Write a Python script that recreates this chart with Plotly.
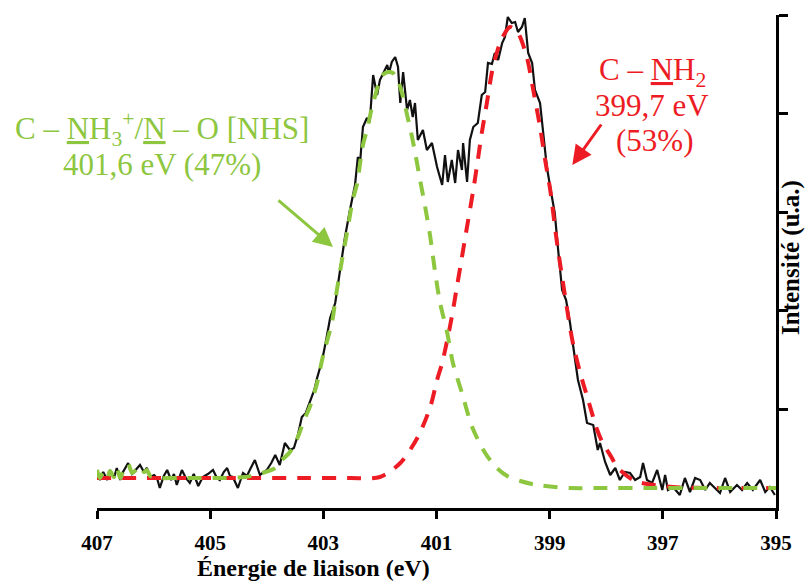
import plotly.graph_objects as go

# ---- data: binding energy (eV) and intensity (a.u.) ----
e_exp = [407.00, 406.95, 406.89, 406.82, 406.77, 406.70, 406.65, 406.59, 406.54, 406.45,
         406.38, 406.31, 406.24, 406.17, 406.12, 406.06, 405.99, 405.94, 405.89, 405.82,
         405.76, 405.69, 405.64, 405.59, 405.50, 405.43, 405.36, 405.29, 405.21, 405.13,
         405.04, 404.95, 404.88, 404.83, 404.76, 404.70, 404.65, 404.60, 404.51, 404.42,
         404.35, 404.30, 404.21, 404.12, 404.05, 404.00, 403.92, 403.85, 403.77, 403.68,
         403.59, 403.52, 403.45, 403.38, 403.31, 403.24, 403.16, 403.11, 403.02, 402.95,
         402.88, 402.79, 402.71, 402.62, 402.53, 402.44, 402.39, 402.35, 402.30, 402.23,
         402.18, 402.12, 402.05, 402.00, 401.93, 401.87, 401.84, 401.79, 401.73, 401.68,
         401.64, 401.59, 401.52, 401.47, 401.42, 401.38, 401.33, 401.24, 401.17, 401.08,
         400.99, 400.90, 400.85, 400.80, 400.73, 400.67, 400.62, 400.55, 400.53, 400.46,
         400.41, 400.35, 400.27, 400.20, 400.14, 400.09, 400.02, 399.97, 399.91, 399.84,
         399.79, 399.74, 399.67, 399.61, 399.56, 399.49, 399.44, 399.38, 399.31, 399.26,
         399.17, 399.12, 399.05, 398.96, 398.91, 398.85, 398.78, 398.71, 398.64, 398.55,
         398.50, 398.41, 398.34, 398.23, 398.15, 398.11, 398.02, 397.93, 397.84, 397.76,
         397.67, 397.58, 397.49, 397.40, 397.35, 397.28, 397.19, 397.10, 397.01, 396.96,
         396.91, 396.82, 396.70, 396.61, 396.52, 396.43, 396.34, 396.25, 396.17, 396.08,
         395.99, 395.90, 395.81, 395.69, 395.60, 395.51, 395.41, 395.28, 395.19, 395.11,
         395.02]
i_exp = [380, 280, 360, 280, 380, 300, 400, 280, 360, 450,
         340, 380, 430, 360, 400, 310, 330, 300, 200, 320,
         380, 280, 340, 230, 380, 300, 250, 340, 220, 310,
         340, 380, 300, 280, 360, 400, 320, 310, 200, 350,
         320, 380, 480, 330, 360, 380, 450, 530, 430, 650,
         580, 600, 730, 910, 950, 1050, 1180, 1300, 1480, 1680,
         1900, 2050, 2350, 2700, 2980, 3230, 3510, 3460, 3810, 3900,
         3860, 4330, 4130, 4280, 4360, 4430, 4350, 4460, 4510, 4410,
         4050, 4360, 3980, 4080, 3910, 4050, 3680, 3780, 3580, 3650,
         3410, 3230, 3530, 3260, 3480, 3250, 3580, 3380, 3650, 3260,
         3680, 3810, 3850, 4130, 4160, 4450, 4440, 4550, 4480, 4650,
         4710, 4910, 4850, 4860, 4760, 4810, 4900, 4550, 4450, 4180,
         4050, 3750, 3410, 3110, 2950, 2580, 2180, 2080, 1850, 1480,
         1280, 1080, 850, 830, 580, 650, 460, 330, 400, 280,
         360, 350, 280, 310, 450, 280, 250, 380, 180, 330,
         180, 210, 130, 300, 160, 300, 280, 180, 250, 200,
         150, 300, 160, 230, 180, 250, 180, 280, 160, 210,
         130]

# fitted component C-NH2 (399,7 eV)
e_nh2 = [407.00, 405.18, 403.41, 402.53, 402.00, 401.64, 401.33, 401.11, 400.99, 400.90,
         400.81, 400.73, 400.64, 400.55, 400.50, 400.44, 400.35, 400.27, 400.20, 400.11,
         400.02, 399.93, 399.84, 399.70, 399.56, 399.40, 399.29, 399.17, 399.08, 398.99,
         398.87, 398.78, 398.69, 398.59, 398.46, 398.32, 398.16, 398.07, 397.90, 397.81,
         397.53, 397.37, 396.82, 395.99, 395.00]
i_nh2 = [300, 300, 300, 300, 310, 450, 710, 1010, 1280, 1450,
         1680, 1910, 2210, 2510, 2680, 2880, 3180, 3480, 3750, 4050,
         4360, 4560, 4700, 4810, 4750, 4500, 4180, 3810, 3480, 3180,
         2650, 2310, 1980, 1650, 1350, 1080, 780, 660, 500, 410,
         280, 250, 210, 200, 200]

# fitted component C-NH3+/N-O [NHS] (401,6 eV)
e_nhs = [407.00, 406.95, 406.89, 406.82, 406.77, 406.70, 406.65, 406.59, 406.54, 406.45,
         406.38, 406.31, 406.24, 406.17, 406.12, 406.06, 405.99, 405.94, 405.53, 404.83,
         404.38, 404.08, 403.85, 403.77, 403.59, 403.45, 403.34, 403.24, 403.11, 403.01,
         402.85, 402.76, 402.67, 402.58, 402.48, 402.40, 402.35, 402.30, 402.23, 402.14,
         402.09, 402.03, 401.95, 401.86, 401.77, 401.68, 401.61, 401.52, 401.47, 401.38,
         401.29, 401.20, 401.11, 401.03, 400.94, 400.81, 400.71, 400.55, 400.37, 400.14,
         399.95, 399.75, 399.52, 399.22, 398.64, 398.11, 397.23, 396.34, 395.00]
i_nhs = [380, 300, 360, 300, 370, 310, 400, 300, 360, 440,
         350, 380, 420, 360, 380, 320, 310, 300, 300, 300,
         310, 350, 400, 460, 560, 710, 880, 1010, 1250, 1510,
         1850, 2180, 2480, 2760, 3080, 3250, 3450, 3630, 3780, 4010,
         4110, 4230, 4330, 4360, 4350, 4270, 4150, 3930, 3810, 3560,
         3280, 3010, 2710, 2380, 2060, 1750, 1450, 1150, 810, 550,
         410, 320, 270, 230, 200, 200, 200, 200, 200]

x_ticks = [407, 405, 403, 401, 399, 397, 395]
y_ticks = [986, 1972, 2958, 3944, 4930]

RED = "rgb(237,28,36)"
GREEN = "rgb(141,198,63)"
SERIF = "Liberation Serif"

fig = go.Figure()
fig.add_trace(go.Scatter(x=e_exp, y=i_exp, mode="lines",
                         line=dict(color="#111111", width=2.2), showlegend=False))
fig.add_trace(go.Scatter(x=e_nh2, y=i_nh2, mode="lines",
                         line=dict(color=RED, width=4, dash="14px,11px", shape="spline", smoothing=0.8),
                         showlegend=False))
fig.add_trace(go.Scatter(x=e_nhs, y=i_nhs, mode="lines",
                         line=dict(color=GREEN, width=4, dash="14px,11px", shape="spline", smoothing=0.8),
                         showlegend=False))

fig.update_layout(
    width=806, height=585,
    margin=dict(l=97, r=30, t=15, b=77),
    paper_bgcolor="white", plot_bgcolor="white",
    xaxis=dict(range=[407, 395], tickvals=x_ticks, ticktext=[str(v) for v in x_ticks],
               showgrid=False, zeroline=False, showline=True, linecolor="black", linewidth=3,
               ticks="outside", ticklen=8, tickwidth=2.5, tickcolor="black",
               tickfont=dict(family=SERIF, size=21, color="black", weight="bold"),
               ticklabelstandoff=6, automargin=False),
    yaxis=dict(range=[0, 4930], side="right", tickvals=y_ticks, showticklabels=False,
               showgrid=False, zeroline=False, showline=True, linecolor="black", linewidth=3,
               ticks="outside", ticklen=9, tickwidth=2.5, tickcolor="black", automargin=False),
)

ann = []
# axis titles
ann.append(dict(text="<b>Énergie de liaison (eV)</b>", xref="paper", yref="paper",
                x=(313 - 97) / 679, y=-(568 - 508) / 493, xanchor="center", yanchor="middle",
                showarrow=False, font=dict(family=SERIF, size=24, color="black")))
ann.append(dict(text="<b>Intensité (u.a.)</b>", xref="paper", yref="paper",
                x=(791 - 97) / 679, y=(508 - 258) / 493, xanchor="center", yanchor="middle",
                textangle=-90, showarrow=False, font=dict(family=SERIF, size=25, color="black")))
# green labels
ann.append(dict(text="C – <u>N</u>H<sub>3</sub><sup>+</sup>/<u>N</u> – O [NHS]", xref="paper", yref="paper",
                x=(162 - 97) / 679, y=(508 - 129) / 493, xanchor="center", yanchor="middle",
                showarrow=False, font=dict(family=SERIF, size=31, color=GREEN)))
ann.append(dict(text="401,6 eV (47%)", xref="paper", yref="paper",
                x=(162 - 97) / 679, y=(508 - 164) / 493, xanchor="center", yanchor="middle",
                showarrow=False, font=dict(family=SERIF, size=31, color=GREEN)))
# red labels
ann.append(dict(text="C – <u>N</u>H<sub>2</sub>", xref="paper", yref="paper",
                x=(652 - 97) / 679, y=(508 - 72) / 493, xanchor="center", yanchor="middle",
                showarrow=False, font=dict(family=SERIF, size=31, color=RED)))
ann.append(dict(text="399,7 eV", xref="paper", yref="paper",
                x=(652 - 97) / 679, y=(508 - 105) / 493, xanchor="center", yanchor="middle",
                showarrow=False, font=dict(family=SERIF, size=31, color=RED)))
ann.append(dict(text="(53%)", xref="paper", yref="paper",
                x=(654 - 97) / 679, y=(508 - 140) / 493, xanchor="center", yanchor="middle",
                showarrow=False, font=dict(family=SERIF, size=31, color=RED)))
# arrows
ann.append(dict(text="", x=402.83, y=2610, xref="x", yref="y", showarrow=True,
                ax=-56, ay=-48, arrowhead=2, arrowsize=1.3, arrowwidth=3, arrowcolor=GREEN))
ann.append(dict(text="", x=398.60, y=3430, xref="x", yref="y", showarrow=True,
                ax=30, ay=-42, arrowhead=2, arrowsize=1.3, arrowwidth=3, arrowcolor=RED))
fig.update_layout(annotations=ann)

fig.write_html("out.html",
               config={"displayModeBar": False},
               post_script="document.body.style.margin='0';document.body.style.padding='0';"
                           "document.documentElement.style.overflow='hidden';")
